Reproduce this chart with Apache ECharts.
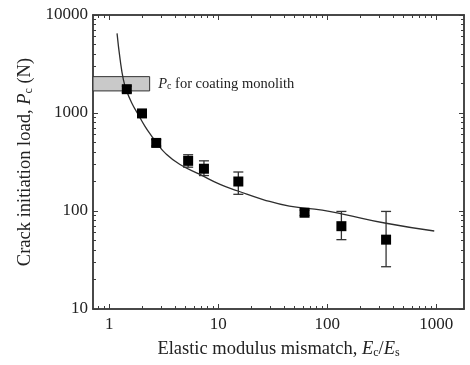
<!DOCTYPE html>
<html>
<head>
<meta charset="utf-8">
<script src="https://cdn.jsdelivr.net/npm/echarts@6/dist/echarts.min.js"></script>
<style>
  html, body { margin: 0; padding: 0; background: #fff; }
  #chart { width: 470px; height: 365px; }
</style>
</head>
<body>
<div id="chart"></div>
<script>
// measured points (modulus mismatch Ec/Es vs crack load Pc)
const ratio   = [1.45, 2.0, 2.7, 5.3, 7.4, 15.3, 62, 135, 347];
const load    = [1750, 990, 495, 325, 270, 200, 96, 70, 51];
const errLow  = [1620, 930, 460, 280, 230, 148, 90, 51, 27];
const errHigh = [1880, 1050, 535, 375, 325, 250, 102, 99, 99];

// fitted curve
const fitX = [1.18, 1.26, 1.35, 1.43, 1.61, 1.85, 2.13, 2.46, 2.73, 3.25, 4.46, 6.8, 10.4, 15.2, 25.8, 45, 90, 139, 347, 960];
const fitY = [6500, 3500, 2180, 1730, 1265, 960, 730, 578, 495, 392, 298, 236, 187, 160, 131, 112, 102, 93, 75, 62.5];

// monolith band
const bandX = 2.35;
const bandY = [1680, 2350];

const xMajor = [1, 10, 100, 1000];
const yMajor = [10, 100, 1000, 10000];
const X_MIN = 0.71, X_MAX = 1800;
const Y_MIN = 10, Y_MAX = 10000;

const lg = Math.log10;
const minorOf = (lo, hi) => {
  const out = [];
  for (let d = Math.floor(lg(lo)); d <= Math.ceil(lg(hi)); d++) {
    for (let m = 2; m <= 9; m++) {
      const v = m * Math.pow(10, d);
      if (v > lo && v < hi) out.push(lg(v));
    }
  }
  return out;
};

const FONT = '"Liberation Serif", "DejaVu Serif", serif';
const AXIS_COLOR = '#3c3c3c';
const TEXT_COLOR = '#222';

const rich = {
  i: { fontStyle: 'italic', fontFamily: FONT, fontSize: 18.5, color: TEXT_COLOR },
  s: { fontFamily: FONT, fontSize: 12, color: TEXT_COLOR, verticalAlign: 'bottom', padding: [6, 0, 0, 0] }
};

const mkAxis = (kind, pos, lo, hi, major, showLabel, name) => {
  const common = {
    type: 'value',
    position: pos,
    min: lg(lo),
    max: lg(hi),
    splitLine: { show: false },
    axisLine: { show: true, onZero: false, lineStyle: { color: AXIS_COLOR, width: 1.5 } },
    axisTick: { show: true, inside: true, length: major ? 5 : 3, lineStyle: { color: AXIS_COLOR, width: 1 },
      customValues: major ? (kind === 'x' ? xMajor : yMajor).map(lg) : minorOf(lo, hi) },
    axisLabel: { show: false },
    axisPointer: { show: false }
  };
  if (showLabel) {
    common.axisLabel = {
      show: true,
      customValues: (kind === 'x' ? xMajor : yMajor).map(lg),
      formatter: v => String(Math.round(Math.pow(10, v))),
      fontFamily: FONT, fontSize: 17, color: TEXT_COLOR,
      margin: kind === 'x' ? 7 : 5
    };
  }
  if (name) Object.assign(common, name);
  return common;
};

const xAxes = [
  mkAxis('x', 'bottom', X_MIN, X_MAX, true, true, {
    name: 'Elastic modulus mismatch, {i|E}{s|c}/{i|E}{s|s}',
    nameLocation: 'middle', nameGap: 31,
    nameTextStyle: { fontFamily: FONT, fontSize: 18.5, color: TEXT_COLOR, rich: rich }
  }),
  mkAxis('x', 'bottom', X_MIN, X_MAX, false, false),
  mkAxis('x', 'top', X_MIN, X_MAX, true, false),
  mkAxis('x', 'top', X_MIN, X_MAX, false, false)
];
const yAxes = [
  mkAxis('y', 'left', Y_MIN, Y_MAX, true, true, {
    name: 'Crack initiation load, {i|P}{s|c} (N)',
    nameLocation: 'middle', nameGap: 57, nameRotate: 90,
    nameTextStyle: { fontFamily: FONT, fontSize: 18.5, color: TEXT_COLOR, rich: rich }
  }),
  mkAxis('y', 'left', Y_MIN, Y_MAX, false, false),
  mkAxis('y', 'right', Y_MIN, Y_MAX, true, false),
  mkAxis('y', 'right', Y_MIN, Y_MAX, false, false)
];

const pts = ratio.map((r, i) => [lg(r), lg(load[i])]);
const bars = ratio.map((r, i) => [lg(r), lg(errLow[i]), lg(errHigh[i])]);
const fit = fitX.map((x, i) => [lg(x), lg(fitY[i])]);

const chart = echarts.init(document.getElementById('chart'), null, { renderer: 'canvas' });
chart.setOption({
  animation: false,
  backgroundColor: '#fff',
  grid: { left: 93, right: 6, top: 15, bottom: 56, containLabel: false },
  xAxis: xAxes,
  yAxis: yAxes,
  series: [
    {
      type: 'line',
      data: fit,
      smooth: true,
      symbol: 'none',
      lineStyle: { color: '#2e2e2e', width: 1.3 },
      z: 3,
      markArea: {
        silent: true,
        itemStyle: { color: '#c9c9c9', borderColor: '#333', borderWidth: 1 },
        label: {
          show: true, position: 'right', distance: 8,
          formatter: '{i|P}{s|c} for coating monolith',
          fontFamily: FONT, fontSize: 14.5, color: TEXT_COLOR,
          rich: {
            i: { fontStyle: 'italic', fontFamily: FONT, fontSize: 14.5, color: TEXT_COLOR },
            s: { fontFamily: FONT, fontSize: 10, color: TEXT_COLOR, verticalAlign: 'bottom', padding: [5, 0, 0, 0] }
          }
        },
        data: [[
          { xAxis: lg(X_MIN), yAxis: lg(bandY[0]) },
          { xAxis: lg(bandX), yAxis: lg(bandY[1]) }
        ]]
      }
    },
    {
      type: 'custom',
      data: bars,
      z: 4,
      renderItem: (params, api) => {
        const lo = api.coord([api.value(0), api.value(1)]);
        const hi = api.coord([api.value(0), api.value(2)]);
        const w = 5;
        const st = { stroke: '#333', lineWidth: 1.3 };
        return {
          type: 'group',
          children: [
            { type: 'line', shape: { x1: lo[0], y1: lo[1], x2: hi[0], y2: hi[1] }, style: st },
            { type: 'line', shape: { x1: lo[0] - w, y1: lo[1], x2: lo[0] + w, y2: lo[1] }, style: st },
            { type: 'line', shape: { x1: hi[0] - w, y1: hi[1], x2: hi[0] + w, y2: hi[1] }, style: st }
          ]
        };
      }
    },
    {
      type: 'scatter',
      data: pts,
      symbol: 'rect',
      symbolSize: 10,
      itemStyle: { color: '#000', opacity: 1 },
      z: 5
    }
  ]
});
</script>
</body>
</html>
